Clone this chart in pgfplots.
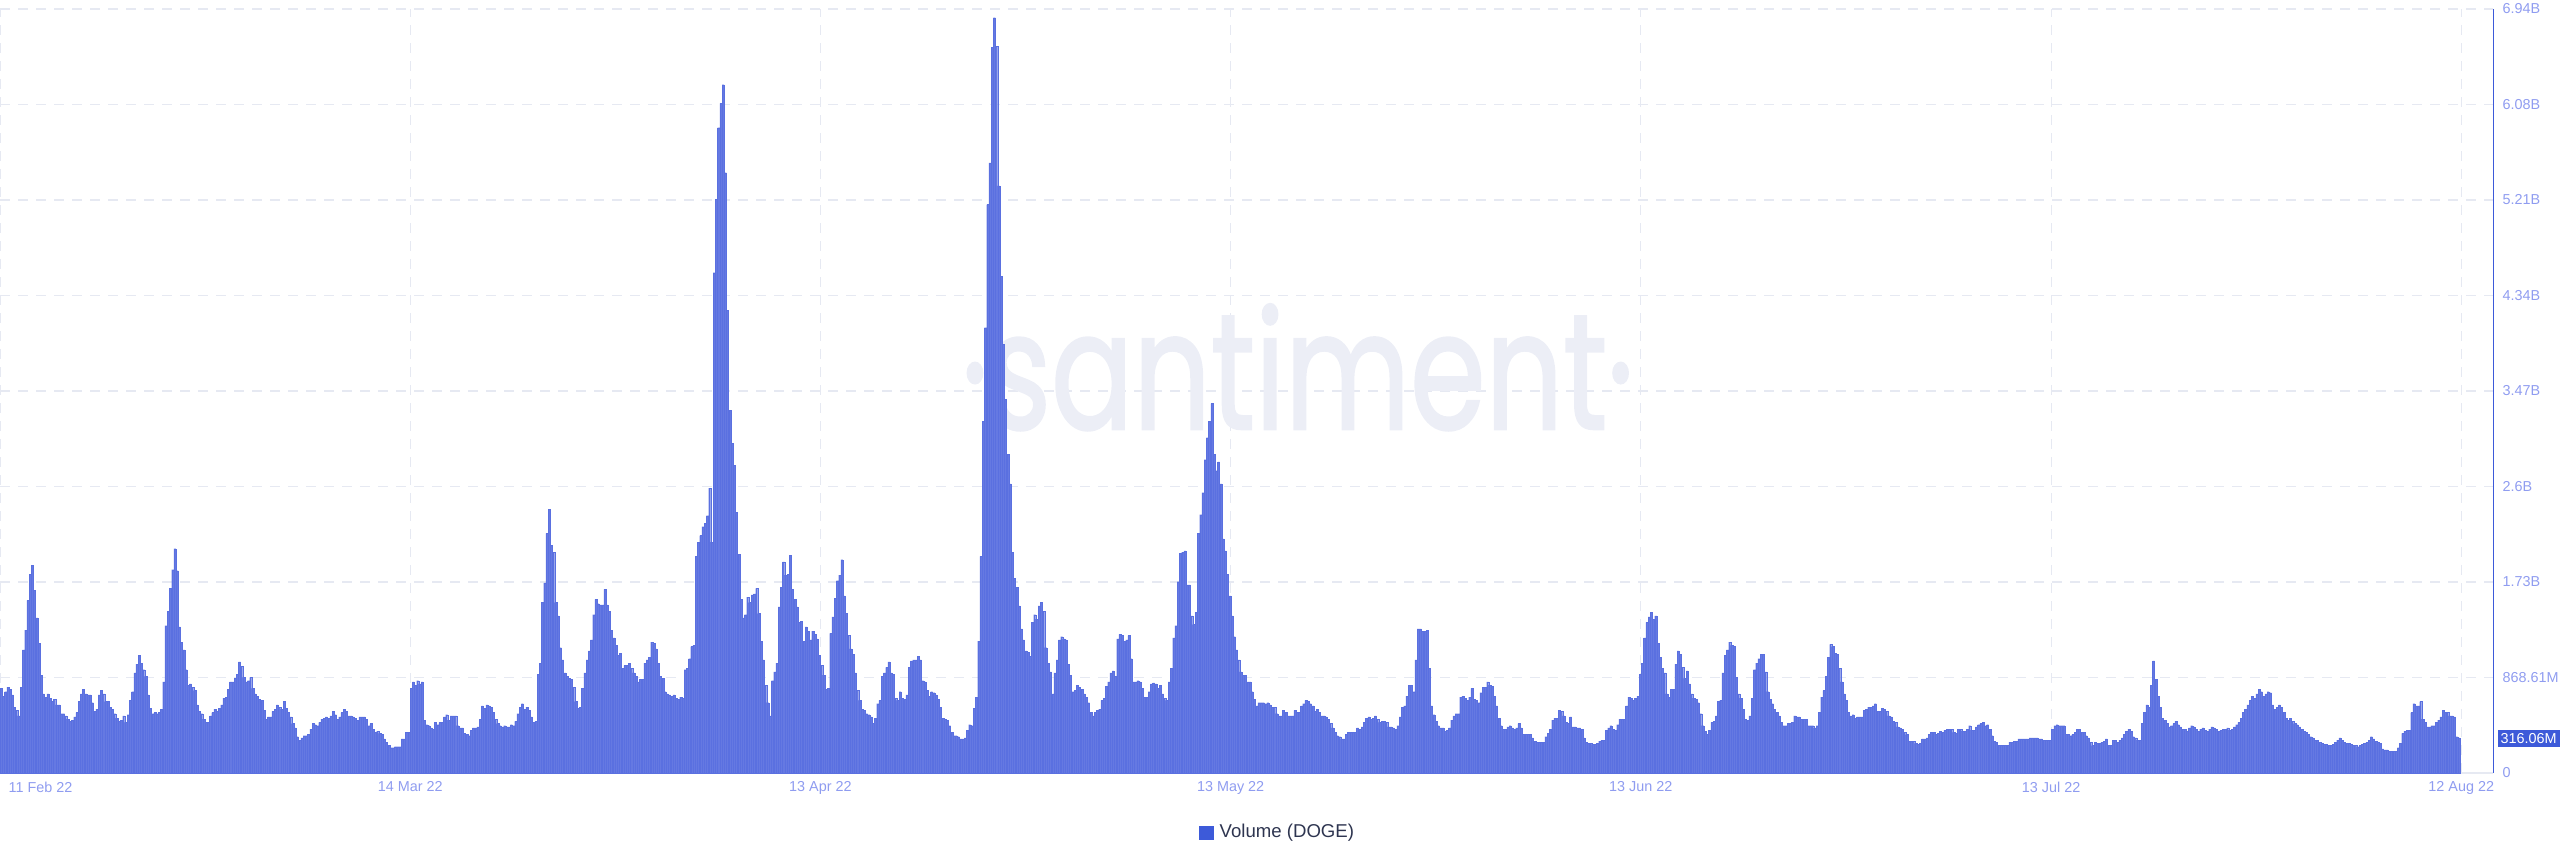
\documentclass[border=0pt]{standalone}
\usepackage{fontspec}
\setmainfont{Liberation Sans}
\newfontfamily\wmfont{Poppins}[FakeBold=1.6]
\usepackage{pgfplots}
\usepackage{pgfplotstable}
\pgfplotsset{compat=1.18}

\definecolor{barfill}{HTML}{6579E2}
\definecolor{barline}{HTML}{5A70E0}
\definecolor{axisblue}{HTML}{3D5AD9}
\definecolor{ticktext}{HTML}{8F9CF0}
\definecolor{gridgray}{HTML}{E6E9F2}
\definecolor{legendtext}{HTML}{2E3550}
\definecolor{wmcolor}{HTML}{ECEEF6}

% 4-hour volume bars (billions of DOGE), one table per stretch of the chart
\pgfplotstableread[row sep=\\]{v\\0.77\\0.70\\0.74\\0.78\\0.76\\0.71\\0.60\\0.57\\0.52\\0.78\\1.12\\1.30\\1.57\\1.81\\1.89\\1.66\\1.41\\1.18\\0.89\\0.72\\0.69\\0.72\\0.68\\0.65\\0.67\\0.62\\0.62\\0.54\\0.54\\0.52\\0.49\\0.47\\0.48\\0.51\\0.55\\0.65\\0.72\\0.76\\0.72\\0.71\\0.71\\0.64\\0.56\\0.58\\0.71\\0.75\\0.72\\0.65\\0.65\\0.60\\0.58\\0.54\\0.50\\0.47\\0.48\\0.52\\0.46\\0.53\\0.66\\0.74\\0.91\\0.99\\1.07\\1.00\\0.94\\0.88\\0.71\\0.59\\0.54\\0.55\\0.54\\0.55\\0.58\\0.83\\1.34\\1.47\\1.68\\1.85\\2.04\\1.84\\1.33\\1.19\\1.12\\0.94\\0.80\\0.81\\0.78\\0.75\\0.62\\0.56\\0.54\\0.49\\0.46\\0.46\\0.52\\0.55\\0.58\\0.56\\0.59\\0.62\\0.68\\0.69\\0.76\\0.83\\0.83\\0.86\\0.90\\1.01\\0.97\\0.87\\0.83\\0.84\\0.87\\0.77\\0.72\\0.70\\0.67\\0.66\\0.57\\0.49\\0.51\\0.51\\0.56\\0.58\\0.62\\0.60\\0.58\\0.65\\0.59\\0.55\\0.51\\0.45\\0.41\\0.33\\0.30\\0.32\\0.34\\0.34\\0.35\\0.40\\0.45\\0.44\\0.43\\0.46\\0.49\\0.50\\0.51\\0.50\\0.52\\0.56\\0.53\\0.49\\0.51\\0.55\\0.58\\0.56\\0.52\\0.52\\}\segA
\pgfplotstableread[row sep=\\]{v\\0.51\\0.50\\0.48\\0.51\\0.51\\0.51\\0.49\\0.43\\0.45\\0.40\\0.37\\0.38\\0.36\\0.35\\0.31\\0.28\\0.25\\0.23\\0.23\\0.24\\0.24\\0.24\\0.31\\0.31\\0.37\\0.37\\0.77\\0.83\\0.80\\0.84\\0.81\\0.83\\0.48\\0.44\\0.43\\0.41\\0.40\\0.46\\0.44\\0.46\\0.46\\0.51\\0.53\\0.48\\0.52\\0.52\\0.52\\0.43\\0.41\\0.41\\0.36\\0.35\\0.34\\0.39\\0.41\\0.41\\0.42\\0.49\\0.61\\0.59\\0.62\\0.61\\0.60\\0.55\\0.49\\0.45\\0.43\\0.42\\0.43\\0.42\\0.42\\0.44\\0.43\\0.47\\0.54\\0.60\\0.63\\0.58\\0.60\\0.57\\0.51\\0.46\\0.47\\0.90\\1.00\\1.55\\1.73\\2.18\\2.40\\2.07\\2.01\\1.55\\1.43\\1.14\\1.03\\0.91\\0.88\\0.86\\0.85\\0.78\\0.65\\0.59\\0.60\\0.77\\0.91\\1.03\\1.11\\1.21\\1.44\\1.58\\1.54\\1.53\\1.53\\1.67\\1.53\\1.47\\1.30\\1.23\\1.16\\1.07\\1.09\\0.95\\0.98\\0.98\\1.00\\0.95\\0.91\\0.88\\0.83\\0.85\\0.85\\1.00\\1.03\\1.05\\1.19\\1.18\\1.13\\1.00\\0.88\\0.86\\0.74\\0.72\\0.71\\0.70\\0.71\\0.68\\0.67\\0.69\\0.68\\0.94\\0.95\\1.04\\1.15\\1.16\\1.97\\2.10\\2.16\\2.24\\}\segB
\pgfplotstableread[row sep=\\]{v\\2.27\\2.34\\2.59\\2.10\\4.55\\5.22\\5.87\\6.09\\6.26\\5.46\\4.21\\3.30\\3.00\\2.80\\2.37\\1.99\\1.58\\1.41\\1.44\\1.60\\1.55\\1.62\\1.63\\1.68\\1.45\\1.20\\1.03\\0.80\\0.64\\0.52\\0.84\\0.92\\1.00\\1.51\\1.69\\1.92\\1.80\\1.81\\1.98\\1.67\\1.58\\1.51\\1.37\\1.38\\1.20\\1.33\\1.29\\1.21\\1.29\\1.26\\1.22\\1.07\\0.98\\0.89\\0.76\\0.77\\1.27\\1.42\\1.59\\1.75\\1.80\\1.94\\1.61\\1.45\\1.25\\1.13\\1.08\\0.91\\0.75\\0.66\\0.58\\0.57\\0.54\\0.53\\0.51\\0.45\\0.50\\0.63\\0.66\\0.88\\0.91\\0.96\\1.01\\0.91\\0.90\\0.68\\0.66\\0.74\\0.68\\0.67\\0.71\\0.96\\1.02\\1.03\\1.03\\1.06\\1.03\\0.84\\0.83\\0.75\\0.70\\0.74\\0.73\\0.71\\0.67\\0.60\\0.50\\0.49\\0.48\\0.43\\0.37\\0.34\\0.34\\0.33\\0.31\\0.31\\0.32\\0.39\\0.44\\0.43\\0.59\\0.69\\1.20\\1.97\\3.20\\4.05\\5.17\\5.55\\6.60\\6.87\\6.61\\5.34\\4.52\\3.90\\3.40\\2.90\\2.63\\2.01\\1.77\\1.69\\1.52\\1.31\\1.21\\1.11\\1.10\\1.06\\1.37\\1.44\\1.40\\1.52\\1.55\\1.47\\1.14\\1.00\\0.92\\0.72\\0.91\\}\segC
\pgfplotstableread[row sep=\\]{v\\1.03\\1.21\\1.24\\1.22\\1.21\\0.99\\0.89\\0.74\\0.75\\0.80\\0.78\\0.76\\0.72\\0.69\\0.64\\0.55\\0.52\\0.55\\0.57\\0.58\\0.66\\0.68\\0.79\\0.83\\0.91\\0.93\\0.88\\1.22\\1.26\\1.25\\1.20\\1.21\\1.25\\1.04\\0.83\\0.83\\0.84\\0.83\\0.77\\0.69\\0.69\\0.74\\0.81\\0.82\\0.81\\0.77\\0.80\\0.72\\0.68\\0.66\\0.83\\0.95\\1.23\\1.34\\1.74\\2.00\\2.01\\2.02\\1.71\\1.71\\1.43\\1.35\\1.46\\2.18\\2.35\\2.55\\2.85\\3.05\\3.20\\3.36\\2.90\\2.75\\2.83\\2.63\\2.13\\2.02\\1.81\\1.61\\1.43\\1.24\\1.12\\1.03\\0.92\\0.89\\0.89\\0.83\\0.83\\0.74\\0.67\\0.61\\0.64\\0.64\\0.64\\0.63\\0.64\\0.62\\0.60\\0.60\\0.54\\0.52\\0.52\\0.57\\0.55\\0.52\\0.52\\0.52\\0.57\\0.55\\0.55\\0.61\\0.63\\0.66\\0.65\\0.63\\0.61\\0.56\\0.58\\0.55\\0.52\\0.52\\0.51\\0.49\\0.45\\0.41\\0.37\\0.34\\0.33\\0.31\\0.31\\0.35\\0.37\\0.37\\0.37\\0.37\\0.41\\0.40\\0.42\\0.46\\0.50\\0.51\\0.49\\0.50\\0.52\\0.49\\0.46\\0.47\\0.47\\0.46\\0.42\\0.42\\0.41\\0.40\\0.43\\0.51\\0.60\\0.61\\0.70\\}\segD
\pgfplotstableread[row sep=\\]{v\\0.80\\0.80\\0.74\\1.03\\1.31\\1.31\\1.29\\1.29\\1.30\\0.95\\0.61\\0.53\\0.47\\0.43\\0.41\\0.41\\0.38\\0.39\\0.41\\0.48\\0.52\\0.54\\0.54\\0.69\\0.70\\0.68\\0.66\\0.69\\0.77\\0.67\\0.66\\0.64\\0.73\\0.78\\0.78\\0.83\\0.80\\0.79\\0.70\\0.61\\0.50\\0.43\\0.40\\0.40\\0.42\\0.43\\0.41\\0.40\\0.41\\0.45\\0.41\\0.35\\0.35\\0.35\\0.35\\0.32\\0.29\\0.28\\0.28\\0.28\\0.28\\0.33\\0.36\\0.40\\0.48\\0.50\\0.50\\0.57\\0.56\\0.52\\0.46\\0.45\\0.51\\0.42\\0.42\\0.41\\0.41\\0.40\\0.32\\0.28\\0.27\\0.27\\0.26\\0.26\\0.27\\0.29\\0.30\\0.30\\0.39\\0.41\\0.43\\0.40\\0.39\\0.44\\0.49\\0.49\\0.49\\0.61\\0.69\\0.68\\0.66\\0.68\\0.70\\0.90\\1.00\\1.23\\1.37\\1.42\\1.46\\1.40\\1.43\\1.18\\1.05\\0.95\\0.91\\0.72\\0.69\\0.76\\0.76\\0.99\\1.11\\1.08\\0.96\\0.86\\0.93\\0.81\\0.72\\0.68\\0.67\\0.64\\0.54\\0.43\\0.38\\0.35\\0.39\\0.46\\0.47\\0.52\\0.65\\0.66\\0.91\\1.07\\1.12\\1.19\\1.16\\1.15\\0.87\\0.72\\0.68\\0.58\\0.49\\0.48\\0.52\\0.68\\0.94\\1.00\\1.04\\}\segE
\pgfplotstableread[row sep=\\]{v\\1.08\\1.08\\0.92\\0.74\\0.67\\0.63\\0.58\\0.55\\0.52\\0.46\\0.43\\0.43\\0.45\\0.45\\0.46\\0.52\\0.51\\0.51\\0.49\\0.49\\0.49\\0.43\\0.43\\0.43\\0.41\\0.43\\0.55\\0.69\\0.75\\0.88\\1.05\\1.17\\1.15\\1.09\\1.08\\0.95\\0.83\\0.72\\0.66\\0.55\\0.52\\0.53\\0.50\\0.51\\0.51\\0.51\\0.57\\0.58\\0.60\\0.60\\0.61\\0.63\\0.56\\0.56\\0.59\\0.58\\0.56\\0.52\\0.51\\0.47\\0.46\\0.42\\0.41\\0.40\\0.37\\0.35\\0.29\\0.29\\0.29\\0.27\\0.26\\0.27\\0.31\\0.31\\0.32\\0.35\\0.37\\0.37\\0.35\\0.36\\0.38\\0.37\\0.39\\0.40\\0.40\\0.40\\0.37\\0.36\\0.40\\0.40\\0.38\\0.38\\0.40\\0.43\\0.39\\0.39\\0.42\\0.44\\0.45\\0.46\\0.43\\0.44\\0.40\\0.34\\0.29\\0.28\\0.25\\0.25\\0.25\\0.25\\0.25\\0.28\\0.28\\0.29\\0.29\\0.31\\0.31\\0.31\\0.31\\0.31\\0.32\\0.32\\0.32\\0.32\\0.31\\0.31\\0.30\\0.30\\0.30\\0.30\\0.40\\0.43\\0.44\\0.43\\0.43\\0.43\\0.35\\0.35\\0.34\\0.35\\0.37\\0.40\\0.40\\0.37\\0.37\\0.34\\0.32\\0.28\\0.25\\0.28\\0.27\\0.27\\0.28\\0.29\\0.31\\0.25\\0.25\\}\segF
\pgfplotstableread[row sep=\\]{v\\0.30\\0.30\\0.28\\0.30\\0.32\\0.35\\0.38\\0.40\\0.38\\0.33\\0.32\\0.30\\0.30\\0.45\\0.55\\0.62\\0.60\\0.80\\1.02\\0.85\\0.70\\0.60\\0.50\\0.48\\0.45\\0.42\\0.43\\0.45\\0.47\\0.44\\0.42\\0.40\\0.40\\0.38\\0.41\\0.43\\0.42\\0.40\\0.38\\0.40\\0.41\\0.39\\0.38\\0.40\\0.42\\0.41\\0.40\\0.38\\0.39\\0.40\\0.40\\0.41\\0.39\\0.40\\0.42\\0.44\\0.46\\0.50\\0.55\\0.58\\0.62\\0.66\\0.70\\0.68\\0.72\\0.76\\0.74\\0.70\\0.72\\0.74\\0.73\\0.62\\0.58\\0.60\\0.62\\0.60\\0.55\\0.50\\0.48\\0.50\\0.47\\0.45\\0.44\\0.42\\0.40\\0.38\\0.37\\0.35\\0.33\\0.32\\0.30\\0.30\\0.28\\0.27\\0.26\\0.26\\0.25\\0.25\\0.26\\0.28\\0.30\\0.32\\0.30\\0.28\\0.27\\0.27\\0.26\\0.25\\0.25\\0.24\\0.25\\0.26\\0.27\\0.28\\0.30\\0.33\\0.31\\0.29\\0.28\\0.27\\0.22\\0.21\\0.21\\0.20\\0.20\\0.20\\0.20\\0.23\\0.27\\0.36\\0.38\\0.39\\0.39\\0.55\\0.63\\0.61\\0.61\\0.65\\0.49\\0.46\\0.42\\0.42\\0.43\\0.43\\0.46\\0.48\\0.51\\0.57\\0.55\\0.55\\0.52\\0.52\\0.51\\0.33\\0.32\\}\segG

% #1 table, #2 first pixel, #3 pixel span, #4 number of bars; 13.516 px per day
\newcommand{\seg}[4]{%
  \addplot[ybar, bar shift=0pt, bar width=0.15, fill=barfill, draw=barline,
    line width=0.06pt, forget plot]
    table[x expr={(#2+(\coordindex+0.5)*#3/#4)/13.516}, y=v] {#1};}

\begin{document}
\begin{tikzpicture}[x=1pt,y=1pt]
\useasboundingbox (0,-31.333) rectangle (853.333,257.667);
\begin{axis}[
  at={(0,0)}, anchor=south west, scale only axis,
  width=831pt, height=254.667pt,
  xmin=0, xmax=184.45, ymin=0, ymax=6.94888,
  clip=false,
  axis x line*=bottom, axis y line*=right,
  x axis line style={draw=gridgray, line width=0.4pt},
  y axis line style={draw=axisblue, line width=0.35pt},
  major tick length=0pt,
  tick label style={font=\fontsize{4.8}{5}\selectfont, text=ticktext},
  xtick={30.35,60.7,91.05,121.4,151.75,182.1},
  xticklabels={14 Mar 22,13 Apr 22,13 May 22,13 Jun 22,13 Jul 22,12 Aug 22},
  extra x ticks={0}, extra x tick labels={11 Feb 22},
  extra x tick style={xticklabel style={anchor=north west, xshift=2.7pt}},
  xticklabel style={anchor=north, inner sep=0pt, yshift=-2.7pt},
  ytick={0,0.86861,1.73722,2.60583,3.47444,4.34305,5.21166,6.08027,6.94888},
  yticklabels={0,868.61M,1.73B,2.6B,3.47B,4.34B,5.21B,6.08B,6.94B},
  yticklabel style={anchor=west, inner sep=0pt, xshift=3pt},
  grid=major,
  major grid style={draw=gridgray, line width=0.35pt, dash pattern=on 3.3pt off 2.7pt},
  legend style={at={(0.5133,-0.0785)}, anchor=center, draw=none, fill=none,
    font=\fontsize{6.2}{7}\selectfont, text=legendtext, inner sep=0pt},
]
\node[text=wmcolor, font=\wmfont\fontsize{40.5}{41}\selectfont, yscale=1.35]
  at (axis cs:96,3.69) {·santiment·};
\addlegendimage{legend image code/.code={\fill[axisblue] (0pt,-2.2pt) rectangle (4.4pt,2.2pt);}}
\addlegendentry{Volume (DOGE)}
\seg{\segA}{0}{352}{158}
\seg{\segB}{352}{352}{158}
\seg{\segC}{704}{352}{157}
\seg{\segD}{1056}{352}{157}
\seg{\segE}{1408}{352}{157}
\seg{\segF}{1760}{352}{157}
\seg{\segG}{2112}{348}{155}
\node[fill=axisblue, text=white, font=\fontsize{4.8}{5}\selectfont,
  inner xsep=1pt, inner ysep=1.1pt, anchor=west, xshift=1.3pt]
  at (axis cs:184.45,0.31606) {316.06M};
\end{axis}
\end{tikzpicture}
\end{document}
